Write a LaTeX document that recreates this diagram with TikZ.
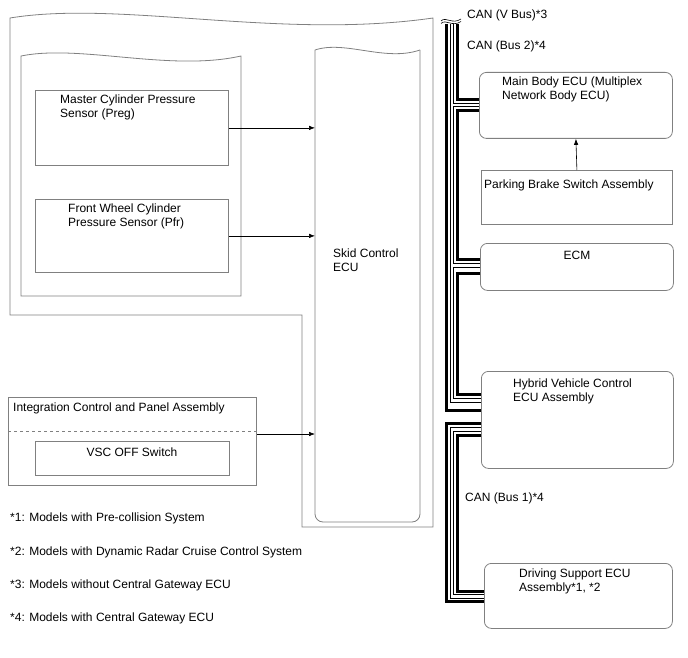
\documentclass[tikz,border=0pt]{standalone}
\usepackage{fontspec}
\setmainfont{Liberation Sans}
\usetikzlibrary{arrows.meta}
\definecolor{boxgray}{RGB}{128,128,128}
\tikzset{
	box/.style={draw=boxgray,line width=0.8pt,inner sep=0pt,anchor=north west},
	ecu/.style={box,rounded corners=7pt},
	frame/.style={draw=boxgray,line width=0.8pt},
	txt/.style={inner sep=0pt,anchor=base west,align=left},
	sig/.style={line width=0.6pt,-{Latex[length=6pt,width=4.5pt]}},
	canthick/.style={line width=3pt},
	canthin/.style={line width=0.8pt}
}
\begin{document}
\begin{tikzpicture}[x=1pt,y=-1pt,font=\fontsize{12}{14}\selectfont]
	\useasboundingbox (0,0) rectangle (688,658);
	\draw[frame] (10,18) .. controls (120,0) and (280,40) .. (433,18) -- (433,527) -- (302,527) -- (302,315) -- (10,315) -- cycle;
	\draw[frame] (21,56) .. controls (80,44) and (170,72) .. (241,56) -- (241,296) -- (21,296) -- cycle;
	\draw[frame] (315,50) .. controls (345,40) and (385,62) .. (420,50);
	\draw[frame,rounded corners=8pt] (420,50) -- (420,522) -- (315,522) -- (315,50);
	\coordinate (skid) at (315,0);
	\node[txt] (skidtxt) at (333,271) {Skid Control\\ECU};

	\node[box,minimum width=193pt,minimum height=75pt] (mcps) at (35,90) {};
	\node[txt] (mcpstxt) at (60,118) {Master Cylinder Pressure\\Sensor (Preg)};
	\node[box,minimum width=193pt,minimum height=73pt] (fwps) at (35,199) {};
	\node[txt] (fwpstxt) at (68,226) {Front Wheel Cylinder\\Pressure Sensor (Pfr)};
	\draw[sig] (mcps.east) -- (mcps.east -| skid);
	\draw[sig] (fwps.east) -- (fwps.east -| skid);

	\node[box,minimum width=248pt,minimum height=88pt] (icpa) at (8,397) {};
	\node[txt] (icpatxt) at (13,411) {Integration Control and Panel Assembly};
	\draw[frame,dashed] (icpa.west |- 0,431) -- (icpa.east |- 0,431);
	\node[box,minimum width=194pt,minimum height=34pt] (vsc) at (35,441) {};
	\node[txt,anchor=base] (vsctxt) at (132,456) {VSC OFF Switch};
	\draw[sig] (icpa.east |- 0,434) -- (skid |- 0,434);

	\node[txt] (fn1) at (10,521) {*1: Models with Pre-collision System};
	\node[txt] (fn2) at (10,555) {*2: Models with Dynamic Radar Cruise Control System};
	\node[txt] (fn3) at (10,588) {*3: Models without Central Gateway ECU};
	\node[txt] (fn4) at (10,621) {*4: Models with Central Gateway ECU};

	\node[ecu,minimum width=193pt,minimum height=66pt] (mbecu) at (479,72) {};
	\node[txt] (mbecutxt) at (502,100) {Main Body ECU (Multiplex\\Network Body ECU)};
	\node[box,minimum width=191pt,minimum height=54pt] (pbsa) at (481,170) {};
	\node[txt] (pbsatxt) at (484,188) {Parking Brake Switch Assembly};
	\draw[sig] (pbsa.north) -- (mbecu.south);
	\node[ecu,minimum width=193pt,minimum height=47pt] (ecm) at (480,243) {};
	\node[txt,anchor=base] (ecmtxt) at (577,259) {ECM};
	\node[ecu,minimum width=192pt,minimum height=97pt] (hvecu) at (481,371) {};
	\node[txt] (hvecutxt) at (513,401) {Hybrid Vehicle Control\\ECU Assembly};
	\node[ecu,minimum width=188pt,minimum height=65pt] (dsecu) at (484,563) {};
	\node[txt] (dsecutxt) at (519,591) {Driving Support ECU\\Assembly*1, *2};

	\node[txt] (vbus) at (467,19) {CAN (V Bus)*3};
	\node[txt] (bus2) at (467,50) {CAN (Bus 2)*4};
	\node[txt] (bus1) at (465,501) {CAN (Bus 1)*4};

	\draw[line width=0.6pt] (441,21) .. controls (446,16) and (452,25) .. (461,19);
	\draw[line width=0.6pt] (441,23.5) .. controls (446,18.5) and (452,27.5) .. (461,21.5);
	\draw[canthick] (446,24) |- (hvecu.west |- 0,410);
	\draw[canthin] (450,24) |- (hvecu.west |- 0,402);
	\draw[canthin] (453.5,24) |- (mbecu.west |- 0,103);
	\draw[canthin] (mbecu.west |- 0,106.5) -| (453.5,263) -- (ecm.west |- 0,263);
	\draw[canthin] (ecm.west |- 0,267) -| (453.5,398) -- (hvecu.west |- 0,398);
	\draw[canthick] (457.5,24) |- (mbecu.west |- 0,99.5);
	\draw[canthick] (mbecu.west |- 0,110.5) -| (457.5,259.5) -- (ecm.west |- 0,259.5);
	\draw[canthick] (ecm.west |- 0,273.5) -| (457.5,394) -- (hvecu.west |- 0,394);

	\draw[canthick] (hvecu.west |- 0,423.5) -| (446,601.5) -- (dsecu.west |- 0,601.5);
	\draw[canthin] (hvecu.west |- 0,427.5) -| (450,598) -- (dsecu.west |- 0,598);
	\draw[canthin] (hvecu.west |- 0,431) -| (453.5,594.5) -- (dsecu.west |- 0,594.5);
	\draw[canthick] (hvecu.west |- 0,435) -| (457.5,591) -- (dsecu.west |- 0,591);
\end{tikzpicture}
\end{document}
